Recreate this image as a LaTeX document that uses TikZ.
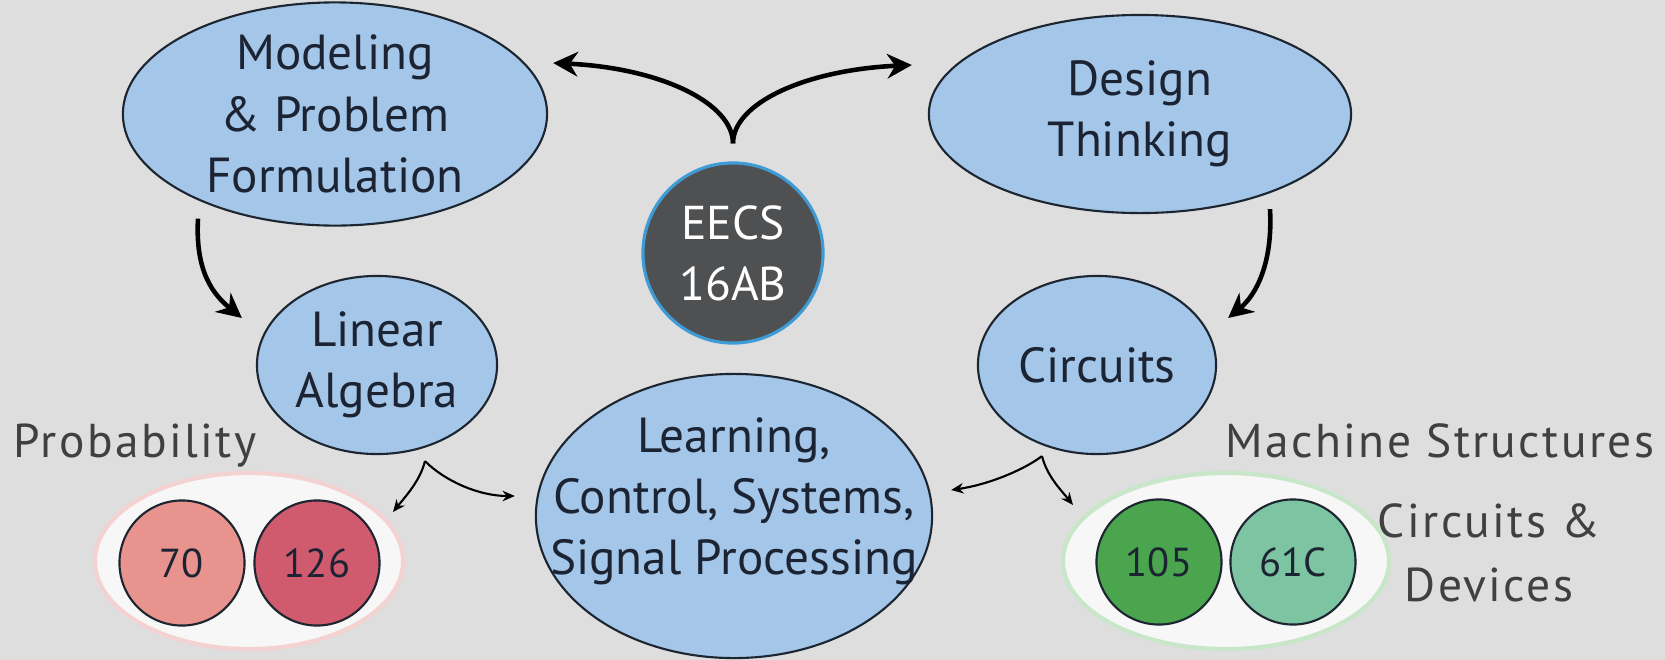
\documentclass[tikz,border=0pt]{standalone}
\usepackage{fontspec}
\setmainfont{PT Sans}
\newfontfamily\thinfont[LetterSpace=5]{PT Sans}
\usetikzlibrary{shapes.geometric}
\usetikzlibrary{arrows.meta}
\usetikzlibrary{calc}

\definecolor{bgcol}{HTML}{DEDEDE}
\definecolor{topicblue}{HTML}{A3C6E9}
\definecolor{edgecol}{HTML}{1C2530}
\definecolor{inkcol}{HTML}{1C2433}
\definecolor{eecsgray}{HTML}{4F5052}
\definecolor{eecsblue}{HTML}{3E9BD5}
\definecolor{groupfill}{HTML}{F7F7F7}
\definecolor{pinkedge}{HTML}{F4D2D2}
\definecolor{greenedge}{HTML}{C8E6C8}
\definecolor{coral}{HTML}{E8938D}
\definecolor{rose}{HTML}{D05A6E}
\definecolor{leaf}{HTML}{4AA54E}
\definecolor{mint}{HTML}{7DC4A2}

\begin{document}
\begin{tikzpicture}[x=0.01cm, y=-0.01cm,
    topic/.style={ellipse, draw=edgecol, line width=0.6pt, fill=topicblue, text=inkcol, align=center, inner sep=0pt, font=\fontsize{14}{17.4}\selectfont},
    course/.style={circle, draw=edgecol, line width=0.6pt, minimum size=1.25cm, inner sep=0pt, text=inkcol, font=\fontsize{11.5}{14}\selectfont},
    group/.style={ellipse, fill=groupfill, line width=1.2pt, inner sep=0pt, minimum height=1.76cm},
    tag/.style={inner sep=0pt, text=black!75, align=center, font=\thinfont\fontsize{13.5}{18}\selectfont},
    bigarrow/.style={line width=1.3pt, -{Stealth[length=7pt, width=7pt]}},
    smallarrow/.style={line width=0.6pt, -{Stealth[length=3.5pt, width=3pt]}}]

      \fill[bgcol] (0,0) rectangle (1665,660);
      \useasboundingbox (0,0) rectangle (1665,660);

      % big topics
      \node[topic, minimum width=4.24cm, minimum height=2.04cm] (model) at (335,114) {Modeling\\\& Problem\\Formulation};
      \node[topic, minimum width=4.22cm, minimum height=1.98cm] (design) at (1140,114) {Design\\Thinking};
      \node[topic, minimum width=2.40cm, minimum height=1.78cm] (linalg) at (377,365) {Linear\\Algebra};
      \node[topic, minimum width=2.38cm, minimum height=1.78cm] (circ) at (1097,365) {Circuits};
      \node[topic, minimum width=3.96cm, minimum height=2.84cm] (learn) at (734,516) {};
      \node[text=inkcol, align=center, font=\fontsize{14}{17.4}\selectfont] (learntext) at ($(learn.center)+(0,-15)$) {Learning,\\Control, Systems,\\Signal Processing};

      \node[circle, fill=eecsgray, draw=eecsblue, line width=0.9pt, minimum size=1.8cm, inner sep=0pt,
            text=white, align=center, font=\fontsize{13.5}{17.4}\selectfont] (eecs) at (733,253) {EECS\\16AB};

      % course groups
      \node[group, draw=pinkedge, minimum width=3.08cm] (probgrp) at (249,561) {};
      \node[course, fill=coral] (c70) at (182,563) {70};
      \node[course, fill=rose] (c126) at (317,563) {126};

      \node[group, draw=greenedge, minimum width=3.26cm] (machgrp) at (1226,561) {};
      \node[course, fill=leaf] (c105) at (1159,562) {105};
      \node[course, fill=mint] (c61c) at (1293,562) {61C};

      \node[tag, anchor=base] (problabel) at (135,457) {Probability};
      \node[tag, anchor=base] (machlabel) at (1440,457) {Machine Structures};
      \node[tag] (devlabel) at (1489,553) {Circuits \&\\Devices};

      % arrow ends
      \coordinate (fork) at ($(eecs.north)+(0,-18)$);
      \coordinate (modeltip) at ($(model.east)+(5,-51)$);
      \coordinate (designtip) at ($(design.west)+(-16,-49)$);
      \coordinate (modelfoot) at ($(model.south)+(-137,-8)$);
      \coordinate (linalgtip) at ($(linalg.west)+(-14,-47)$);
      \coordinate (designfoot) at ($(design.south)+(130,-5)$);
      \coordinate (circtip) at ($(circ.east)+(11,-47)$);
      \coordinate (linalgfork) at ($(linalg.south)+(48,6)$);
      \coordinate (probtip) at ($(probgrp.center)+(144,-49)$);
      \coordinate (learntipL) at ($(learn.west)+(-20,-20)$);
      \coordinate (circfork) at ($(circ.south)+(-55,1)$);
      \coordinate (learntipR) at ($(learn.east)+(18,-26)$);
      \coordinate (machtip) at ($(machgrp.center)+(-153,-56)$);

      \draw[bigarrow] (fork) .. controls +(0,-40) and +(108,5) .. (modeltip);
      \draw[bigarrow] (fork) .. controls +(0,-40) and +(-107,5) .. (designtip);
      \draw[bigarrow] (modelfoot) .. controls +(-3,54) and +(-28,-23) .. (linalgtip);
      \draw[bigarrow] (designfoot) .. controls +(3,54) and +(28,-23) .. (circtip);

      \draw[smallarrow] (linalgfork) .. controls +(-5,20) and +(12,-15) .. (probtip);
      \draw[smallarrow] (linalgfork) .. controls +(20,20) and +(-36,0) .. (learntipL);
      \draw[smallarrow] (circfork) .. controls +(-20,15) and +(35,-5) .. (learntipR);
      \draw[smallarrow] (circfork) .. controls +(5,20) and +(-12,-15) .. (machtip);

    \end{tikzpicture}
\end{document}
